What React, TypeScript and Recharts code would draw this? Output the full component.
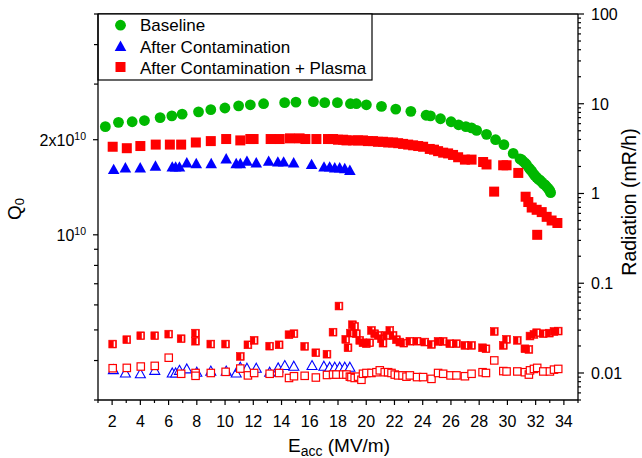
import React from 'react';
import { ScatterChart, Scatter, XAxis, YAxis, Customized } from 'recharts';

const FONT = '"Liberation Sans", Arial, Helvetica, sans-serif';
const GREEN = '#00b800';
const BLUE = '#0000ff';
const RED = '#ff0000';

// ---- Q0 data (Q0 in units of 1e10) ----
const baselineE = [1.52, 2.45, 3.42, 4.29, 5.4, 6.23, 6.96, 8.12, 8.99, 9.99, 10.96, 11.79, 12.73, 14.22, 15.02, 16.26, 17.06, 17.96, 18.88, 19.3, 20.01, 21.08, 22.09, 23.16, 24.24, 24.55, 25.26, 26.01, 26.54, 27.06, 27.46, 27.82, 28.52, 29.16, 29.75, 30.41, 30.89, 31.0, 31.1, 31.24, 31.35, 31.52, 31.62, 31.72, 31.85, 31.95, 32.07, 32.19, 32.3, 32.43, 32.55, 32.66, 32.78, 32.9, 33.0, 33.06];
const baselineQ = [2.2, 2.27, 2.28, 2.3, 2.35, 2.38, 2.41, 2.45, 2.49, 2.52, 2.56, 2.58, 2.6, 2.62, 2.63, 2.64, 2.62, 2.62, 2.6, 2.6, 2.58, 2.55, 2.5, 2.46, 2.39, 2.38, 2.33, 2.28, 2.23, 2.2, 2.18, 2.14, 2.08, 2.0, 1.93, 1.81, 1.74, 1.73, 1.71, 1.69, 1.67, 1.63, 1.61, 1.59, 1.56, 1.54, 1.52, 1.5, 1.49, 1.47, 1.45, 1.44, 1.42, 1.4, 1.38, 1.36];

const contamE = [2.11, 2.94, 3.99, 5.07, 6.26, 6.5, 6.77, 7.29, 7.96, 9.02, 10.08, 10.79, 11.08, 11.55, 12.21, 13.09, 13.74, 14.15, 14.86, 16.13, 17.01, 17.41, 17.77, 18.12, 18.48, 18.84];
const contamQ = [1.61, 1.63, 1.63, 1.65, 1.64, 1.64, 1.64, 1.69, 1.68, 1.68, 1.74, 1.68, 1.68, 1.71, 1.69, 1.71, 1.7, 1.7, 1.69, 1.67, 1.64, 1.64, 1.63, 1.63, 1.62, 1.6];

const plasmaE = [2.04, 3.04, 4.0, 5.09, 6.09, 6.89, 7.93, 8.99, 10.08, 11.08, 11.79, 12.02, 13.23, 13.87, 14.6, 15.28, 15.69, 16.47, 17.29, 17.65, 18.0, 18.36, 18.6, 19.06, 19.42, 19.77, 20.12, 20.48, 20.83, 21.19, 21.55, 21.9, 22.26, 22.61, 22.97, 23.32, 23.68, 24.03, 24.5, 24.8, 25.09, 25.45, 25.8, 26.15, 26.51, 26.99, 27.46, 28.28, 28.52, 29.06, 29.7, 29.94, 30.77, 31.29, 31.48, 31.72, 32.07, 32.11, 32.43, 32.78, 33.13, 33.54];
const plasmaQ = [1.9, 1.88, 1.91, 1.93, 1.93, 1.93, 1.96, 1.98, 2.01, 1.99, 2.01, 2.01, 2.01, 2.01, 2.02, 2.02, 2.01, 2.01, 2.01, 2.01, 2.0, 2.0, 1.99, 1.99, 1.99, 1.99, 1.98, 1.98, 1.97, 1.97, 1.96, 1.96, 1.95, 1.94, 1.93, 1.92, 1.91, 1.9, 1.87, 1.86, 1.84, 1.82, 1.81, 1.79, 1.76, 1.73, 1.73, 1.7, 1.67, 1.37, 1.66, 1.66, 1.57, 1.32, 1.27, 1.22, 1.2, 1.0, 1.18, 1.14, 1.11, 1.09];

// ---- Radiation data (mR/h) ----
const contamRadE = [2.09, 2.94, 4.0, 5.02, 6.26, 6.5, 6.77, 7.29, 8.0, 8.99, 10.08, 10.79, 11.08, 11.55, 12.21, 13.16, 13.76, 14.23, 14.87, 16.16, 17.0, 17.41, 17.77, 18.12, 18.48, 18.84];
const contamRad = [0.0109, 0.01, 0.0098, 0.0107, 0.01, 0.01, 0.0107, 0.0111, 0.0102, 0.0105, 0.0105, 0.01, 0.0116, 0.0113, 0.0113, 0.0102, 0.0114, 0.0121, 0.0119, 0.0121, 0.0119, 0.0116, 0.0116, 0.0116, 0.0116, 0.0116];

const plasmaRadAE = [2.04, 3.04, 4.03, 5.02, 6.01, 6.89, 7.91, 7.91, 8.99, 10.04, 11.08, 11.62, 12.06, 13.16, 13.83, 14.53, 14.88, 15.64, 16.43, 17.22, 17.65, 18.07, 18.55, 18.71, 18.88, 19.02, 19.18, 19.3, 19.54, 19.77, 20.01, 20.25, 20.37, 20.6, 20.84, 21.08, 21.19, 21.43, 21.67, 21.9, 22.14, 22.38, 22.66, 23.09, 23.6, 24.15, 24.62, 25.09, 25.45, 25.92, 26.39, 26.99, 27.46, 28.24, 28.48, 29.07, 29.71, 29.94, 30.7, 31.24, 31.52, 31.6, 31.88, 32.07, 32.54, 32.97, 33.3, 33.6];
const plasmaRadA = [0.021, 0.0235, 0.026, 0.026, 0.0271, 0.0241, 0.0278, 0.0226, 0.021, 0.021, 0.0153, 0.0206, 0.0231, 0.0199, 0.0206, 0.0267, 0.0274, 0.0198, 0.0168, 0.0162, 0.0285, 0.0557, 0.0237, 0.0191, 0.0278, 0.0345, 0.033, 0.0274, 0.0231, 0.0217, 0.0212, 0.0217, 0.0298, 0.0274, 0.0262, 0.0241, 0.0215, 0.0262, 0.0298, 0.0262, 0.0235, 0.0221, 0.0215, 0.0226, 0.0226, 0.0221, 0.0208, 0.0225, 0.0225, 0.0212, 0.0212, 0.0203, 0.0203, 0.0191, 0.0186, 0.029, 0.0203, 0.0237, 0.0231, 0.0186, 0.0183, 0.0258, 0.0269, 0.0281, 0.0274, 0.0278, 0.029, 0.0293];

const plasmaRadBE = [2.04, 3.04, 4.03, 5.02, 6.01, 6.89, 7.91, 7.91, 8.99, 10.04, 11.08, 11.62, 12.06, 13.16, 13.83, 14.53, 14.88, 15.64, 16.43, 17.22, 17.65, 17.89, 18.36, 18.6, 18.84, 18.95, 19.18, 19.42, 19.66, 19.77, 20.01, 20.37, 20.72, 20.96, 21.31, 21.55, 21.79, 22.02, 22.26, 22.57, 22.85, 23.09, 23.6, 24.03, 24.62, 25.09, 25.45, 25.97, 26.39, 26.99, 27.46, 28.24, 28.48, 29.07, 29.71, 29.94, 30.7, 31.24, 31.52, 31.6, 31.88, 32.11, 32.54, 33.01, 33.3, 33.6];
const plasmaRadB = [0.0113, 0.0114, 0.0118, 0.012, 0.0148, 0.0098, 0.01, 0.0093, 0.01, 0.0103, 0.0112, 0.0094, 0.01, 0.0098, 0.01, 0.0088, 0.0092, 0.0093, 0.0089, 0.0095, 0.0096, 0.0096, 0.0096, 0.0096, 0.0091, 0.009, 0.0088, 0.0091, 0.0084, 0.0098, 0.01, 0.01, 0.0102, 0.0107, 0.0102, 0.0102, 0.01, 0.0096, 0.0094, 0.0094, 0.0091, 0.0094, 0.009, 0.009, 0.0086, 0.01, 0.0098, 0.0094, 0.0094, 0.0092, 0.0098, 0.0102, 0.01, 0.0138, 0.0105, 0.0104, 0.0104, 0.0102, 0.0096, 0.0107, 0.0111, 0.0114, 0.0104, 0.0104, 0.0109, 0.0111];

// ---- Ticks ----
const xTicks = [1, 2, 3, 4, 5, 6, 7, 8, 9, 10, 11, 12, 13, 14, 15, 16, 17, 18, 19, 20, 21, 22, 23, 24, 25, 26, 27, 28, 29, 30, 31, 32, 33, 34, 35];
const leftTicks = [3e9, 4e9, 5e9, 6e9, 7e9, 8e9, 9e9, 1e10, 2e10, 3e10, 4e10, 5e10];
const leftLabelValues = [1e10, 2e10];
const leftLabelPrefix = ['', '2x'];
const rightTicks = [
  0.005, 0.006, 0.007, 0.008, 0.009,
  0.01, 0.02, 0.03, 0.04, 0.05, 0.06, 0.07, 0.08, 0.09,
  0.1, 0.2, 0.3, 0.4, 0.5, 0.6, 0.7, 0.8, 0.9,
  1, 2, 3, 4, 5, 6, 7, 8, 9,
  10, 20, 30, 40, 50, 60, 70, 80, 90, 100,
];
const rightLabelValues = [0.01, 0.1, 1, 10, 100];
const rightLabelText = ['0.01', '0.1', '1', '10', '100'];

const pts = (xs: number[], ys: number[], k = 1) => xs.map((x, i) => ({ x, y: ys[i] * k }));

const baselineData = pts(baselineE, baselineQ, 1e10);
const contamData = pts(contamE, contamQ, 1e10);
const plasmaData = pts(plasmaE, plasmaQ, 1e10);
const contamRadData = pts(contamRadE, contamRad);
const plasmaRadAData = pts(plasmaRadAE, plasmaRadA);
const plasmaRadBData = pts(plasmaRadBE, plasmaRadB);

// ---- Marker shapes ----
const GreenCircle = (p: any) => <circle cx={p.cx} cy={p.cy} r={5.4} fill={GREEN} />;
const RedSquare = (p: any) => <rect x={p.cx - 5} y={p.cy - 5} width={10} height={10} fill={RED} />;
const BlueTriangle = (p: any) => (
  <polygon points={`${p.cx},${p.cy - 5.8} ${p.cx + 5.8},${p.cy + 4.6} ${p.cx - 5.8},${p.cy + 4.6}`} fill={BLUE} />
);
const OpenTriangle = (p: any) => (
  <polygon
    points={`${p.cx},${p.cy - 5} ${p.cx + 5},${p.cy + 4} ${p.cx - 5},${p.cy + 4}`}
    fill="#fff"
    stroke={BLUE}
    strokeWidth={1.1}
  />
);
const OpenSquare = (p: any) => (
  <rect x={p.cx - 3.7} y={p.cy - 3.7} width={7.4} height={7.4} fill="#fff" stroke={RED} strokeWidth={1.2} />
);
const HalfSquare = (p: any) => (
  <g>
    <rect x={p.cx - 3.9} y={p.cy - 3.9} width={7.8} height={7.8} fill={RED} stroke={RED} strokeWidth={0.6} />
    <rect x={p.cx + 1.0} y={p.cy - 2.8} width={1.5} height={5.6} fill="#fff" />
  </g>
);

// ---- Ticks ----
const XTick = (props: any) => {
  const { x, y, payload } = props;
  const v = payload.value;
  const major = Math.round(v) % 2 === 0;
  return (
    <g>
      <line x1={x} y1={y} x2={x} y2={y + (major ? 5 : 3)} stroke="#000" strokeWidth={1.2} />
      {major && (
        <text x={x} y={y + 26.5} textAnchor="middle" fontSize={16} fontFamily={FONT} fill="#000">
          {v}
        </text>
      )}
    </g>
  );
};

const LeftTick = (props: any) => {
  const { x, y, payload } = props;
  const v = payload.value;
  const idx = leftLabelValues.findIndex((l) => Math.abs(l - v) / l < 1e-6);
  return (
    <g>
      <line x1={x} y1={y} x2={x - (idx >= 0 ? 5 : 4)} y2={y} stroke="#000" strokeWidth={1.2} />
      {idx >= 0 && (
        <text x={x - 12} y={y + 6.5} textAnchor="end" fontSize={16} fontFamily={FONT} fill="#000">
          {leftLabelPrefix[idx]}10
          <tspan fontSize={10.5} dy={-6.5}>10</tspan>
        </text>
      )}
    </g>
  );
};

const RightTick = (props: any) => {
  const { x, y, payload } = props;
  const v = payload.value;
  const idx = rightLabelValues.findIndex((l) => Math.abs(l - v) / l < 1e-6);
  return (
    <g>
      <line x1={x} y1={y} x2={x + (idx >= 0 ? 6 : 3)} y2={y} stroke="#000" strokeWidth={1.2} />
      {idx >= 0 && (
        <text x={x + 13} y={y + 5.8} textAnchor="start" fontSize={16} fontFamily={FONT} fill="#000">
          {rightLabelText[idx]}
        </text>
      )}
    </g>
  );
};

const Overlay = () => (
  <g fontFamily={FONT} fill="#000">
    <line x1={98} y1={14} x2={578} y2={14} stroke="#000" strokeWidth={1.3} />
    <rect x={98} y={14} width={274} height={66} fill="#fff" stroke="#000" strokeWidth={1.2} />
    <circle cx={120.5} cy={25.2} r={5.4} fill={GREEN} />
    <polygon points="120.5,40.5 126.3,51 114.7,51" fill={BLUE} />
    <rect x={115.5} y={62} width={10} height={10} fill={RED} />
    <text x={140} y={31} fontSize={17}>Baseline</text>
    <text x={140} y={52.6} fontSize={17}>After Contamination</text>
    <text x={140} y={74} fontSize={17}>After Contamination + Plasma</text>

    <text x={288} y={451.7} fontSize={19}>
      E<tspan fontSize={14} dy={4.5}>acc</tspan>
      <tspan fontSize={19} dy={-4.5}> (MV/m)</tspan>
    </text>

    <text transform="translate(20.5,209) rotate(-90)" textAnchor="middle" fontSize={19}>
      Q<tspan fontSize={13} dy={3}>0</tspan>
    </text>

    <text transform="translate(636,202) rotate(-90)" textAnchor="middle" fontSize={19.5}>
      Radiation (mR/h)
    </text>
  </g>
);

export default function App() {
  return (
    <div style={{ position: 'absolute', left: 0, top: 0, width: 642, height: 458, background: '#fff' }}>
      <ScatterChart width={642} height={458} margin={{ top: 14, right: 0, bottom: 0, left: 0 }}>
        <XAxis
          type="number"
          dataKey="x"
          domain={[1, 35]}
          ticks={xTicks}
          interval={0}
          allowDataOverflow
          tickSize={0}
          tickMargin={0}
          tickLine={false}
          tick={<XTick />}
          axisLine={{ stroke: '#000', strokeWidth: 1.3 }}
          height={58}
        />
        <YAxis
          yAxisId="left"
          orientation="left"
          type="number"
          dataKey="y"
          scale="log"
          domain={[3e9, 5e10]}
          allowDataOverflow
          ticks={leftTicks}
          interval={0}
          tickSize={0}
          tickMargin={0}
          tickLine={false}
          tick={<LeftTick />}
          axisLine={{ stroke: '#000', strokeWidth: 1.3 }}
          width={98}
        />
        <YAxis
          yAxisId="right"
          orientation="right"
          type="number"
          dataKey="y"
          scale="log"
          domain={[0.005, 100]}
          allowDataOverflow
          ticks={rightTicks}
          interval={0}
          tickSize={0}
          tickMargin={0}
          tickLine={false}
          tick={<RightTick />}
          axisLine={{ stroke: '#000', strokeWidth: 1.3 }}
          width={64}
        />
        <Scatter yAxisId="left" data={baselineData} shape={GreenCircle} isAnimationActive={false} />
        <Scatter yAxisId="left" data={contamData} shape={BlueTriangle} isAnimationActive={false} />
        <Scatter yAxisId="left" data={plasmaData} shape={RedSquare} isAnimationActive={false} />
        <Scatter yAxisId="right" data={contamRadData} shape={OpenTriangle} isAnimationActive={false} />
        <Scatter yAxisId="right" data={plasmaRadBData} shape={OpenSquare} isAnimationActive={false} />
        <Scatter yAxisId="right" data={plasmaRadAData} shape={HalfSquare} isAnimationActive={false} />
        <Customized component={Overlay} />
      </ScatterChart>
    </div>
  );
}
